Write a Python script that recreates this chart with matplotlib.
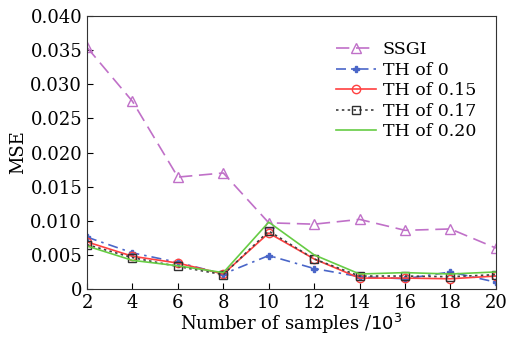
import numpy as np
import matplotlib
matplotlib.use('Agg')
import matplotlib.pyplot as plt

plt.rcParams['font.family'] = 'DejaVu Serif'

# data
samples = [2, 4, 6, 8, 10, 12, 14, 16, 18, 20]
ssgi = [0.0354, 0.0275, 0.0164, 0.0170, 0.0097, 0.0095, 0.0102, 0.0086, 0.0088, 0.0060]
th_0 = [0.0076, 0.0053, 0.0039, 0.0022, 0.0049, 0.0030, 0.0018, 0.0015, 0.0025, 0.0010]
th_015 = [0.0069, 0.0048, 0.0038, 0.0022, 0.0082, 0.0044, 0.0016, 0.0016, 0.0015, 0.0019]
th_017 = [0.0065, 0.0046, 0.0033, 0.0021, 0.0085, 0.0044, 0.0019, 0.0019, 0.0018, 0.0021]
th_020 = [0.0063, 0.0042, 0.0034, 0.0024, 0.0098, 0.0050, 0.0022, 0.0024, 0.0022, 0.0025]

yticks = [0, 0.005, 0.010, 0.015, 0.020, 0.025, 0.030, 0.035, 0.040]
ytick_labels = ['0', '0.005', '0.010', '0.015', '0.020', '0.025', '0.030', '0.035', '0.040']

fig = plt.figure(figsize=(5.22, 3.37), dpi=100)
ax = fig.add_axes([0.1667, 0.1424, 0.7833, 0.8101])

ax.plot(samples, ssgi, color='#c070c8', linestyle=(0, (8, 4)), linewidth=1.2,
        marker='^', markersize=7, markerfacecolor='none', markeredgecolor='#c070c8',
        label='SSGI')
ax.plot(samples, th_0, color='#4a66c8', linestyle=(0, (6, 3, 1.5, 3)), linewidth=1.2,
        marker='P', markersize=5, markerfacecolor='#4a66c8', markeredgecolor='#4a66c8',
        label='TH of 0')
ax.plot(samples, th_015, color='#ff4040', linestyle='-', linewidth=1.2,
        marker='o', markersize=6, markerfacecolor='none', markeredgecolor='#ff4040',
        label='TH of 0.15')
ax.plot(samples, th_017, color='#404040', linestyle=(0, (1.5, 2)), linewidth=1.2,
        marker='s', markersize=6, markerfacecolor='none', markeredgecolor='#303030',
        label='TH of 0.17')
ax.plot(samples, th_020, color='#66cc44', linestyle='-', linewidth=1.2,
        label='TH of 0.20')

ax.set_xlim(2, 20)
ax.set_ylim(0, 0.040)
ax.set_xticks(samples)
ax.set_yticks(yticks)
ax.set_yticklabels(ytick_labels)
ax.tick_params(direction='in', labelsize=13, length=4, top=False, right=False)
ax.set_xlabel('Number of samples /$10^3$', fontsize=13, labelpad=0)
ax.set_ylabel('MSE', fontsize=13, labelpad=2)
for s in ax.spines.values():
    s.set_color('#333333')

ax.legend(loc='upper right', bbox_to_anchor=(0.99, 0.965), frameon=False,
          fontsize=12.5, handlelength=2.3, handletextpad=0.4, labelspacing=0.2)

fig.savefig('out.png', dpi=100)
